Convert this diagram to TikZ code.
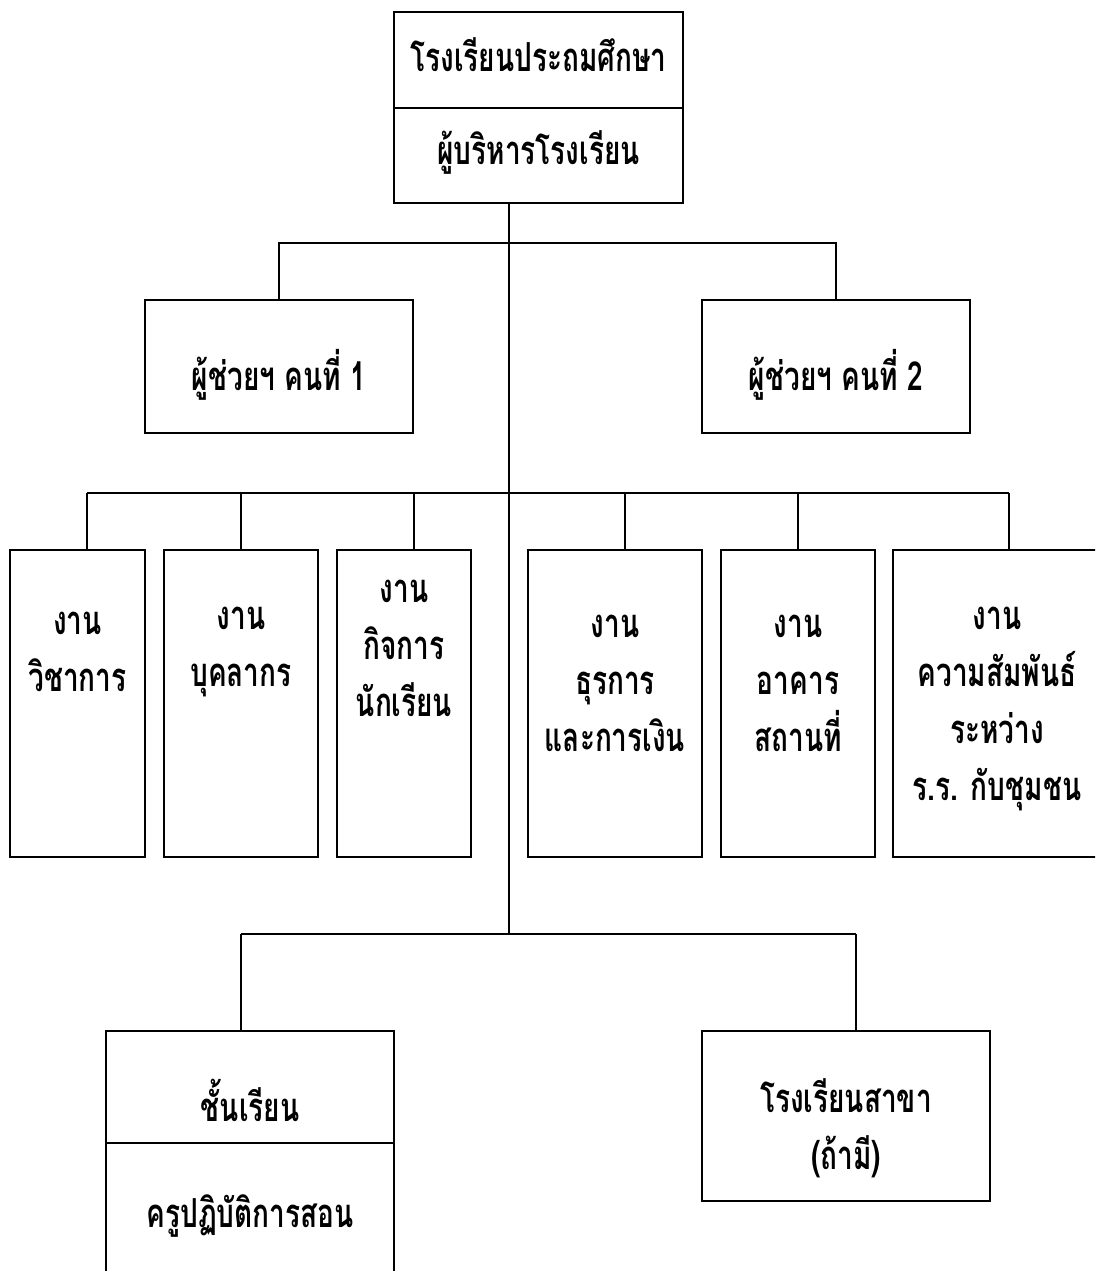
\documentclass[tikz,border=0pt]{standalone}
\usepackage{fontspec}
\newfontfamily\thaifont[Script=Thai,FakeStretch=0.7]{Loma}
\begin{document}
\begin{tikzpicture}[x=1pt,y=-1pt,
  box/.style={draw, line width=1.6pt, rectangle, inner sep=0pt},
  txt/.style={font=\thaifont\bfseries\fontsize{40}{57}\selectfont, align=center, inner sep=0pt},
  conn/.style={line width=1.6pt}]
\clip (0,0) rectangle (1095,1271);
\fill[white] (0,0) rectangle (1095,1271);
% top box
\node[box, minimum width=289, minimum height=96] (school) at (538.5,60) {};
\node[box, minimum width=289, minimum height=95] (dir) at (538.5,155.5) {};
\node[txt] (tschool) at (538.5,55) {โรงเรียนประถมศึกษา};
\node[txt] (tdir) at (538.5,152) {ผู้บริหารโรงเรียน};
% assistants
\node[box, minimum width=268, minimum height=133] (a1) at (279,366.5) {};
\node[box, minimum width=268, minimum height=133] (a2) at (836,366.5) {};
\node[txt] (ta1) at (279,375) {ผู้ช่วยฯ คนที่ 1};
\node[txt] (ta2) at (836,375) {ผู้ช่วยฯ คนที่ 2};
% work boxes
\node[box, minimum width=135, minimum height=307] (b1) at (77.5,703.5) {};
\node[box, minimum width=154, minimum height=307] (b2) at (241,703.5) {};
\node[box, minimum width=134, minimum height=307] (b3) at (404,703.5) {};
\node[box, minimum width=174, minimum height=307] (b4) at (615,703.5) {};
\node[box, minimum width=154, minimum height=307] (b5) at (798,703.5) {};
\node[box, minimum width=208, minimum height=307] (b6) at (997,703.5) {};
\node[txt] (tb1) at (77.5,652) {งาน\\วิชาการ};
\node[txt] (tb2) at (241,652) {งาน\\บุคลากร};
\node[txt] (tb3) at (404,648) {งาน\\กิจการ\\นักเรียน};
\node[txt] (tb4) at (615,683) {งาน\\ธุรการ\\และการเงิน};
\node[txt] (tb5) at (798,683) {งาน\\อาคาร\\สถานที่};
\node[txt] (tb6) at (997,709) {งาน\\ความสัมพันธ์\\ระหว่าง\\ร.ร. กับชุมชน};
% bottom boxes
\node[box, minimum width=288, minimum height=112] (cls) at (250,1087) {};
\node[box, minimum width=288, minimum height=147] (tch) at (250,1216.5) {};
\node[box, minimum width=288, minimum height=170] (br) at (846,1116) {};
\node[txt] (tcls) at (250,1100) {ชั้นเรียน};
\node[txt] (ttch) at (250,1216) {ครูปฏิบัติการสอน};
\node[txt] (tbr) at (846,1128) {โรงเรียนสาขา\\(ถ้ามี)};
% junctions
\coordinate (j1) at (509,243);
\coordinate (j2) at (509,493);
\coordinate (j3) at (509,934);
\coordinate (h1) at (87,493);
\coordinate (h3) at (414,493);
\coordinate (h4) at (625,493);
\coordinate (h6) at (1009,493);
\coordinate (k1) at (241,934);
\coordinate (k2) at (856,934);
% connectors
\draw[conn] (dir.south -| j1) -- (j3);
\draw[conn] (a1.north) |- (j1) -| (a2.north);
\draw[conn] (h1) -- (h6);
\draw[conn] (h1) -- (b1.north -| h1);
\draw[conn] (b2.north) -- (b2.north |- h1);
\draw[conn] (h3) -- (b3.north -| h3);
\draw[conn] (h4) -- (b4.north -| h4);
\draw[conn] (b5.north) -- (b5.north |- h1);
\draw[conn] (h6) -- (b6.north -| h6);
\draw[conn] (k1) -- (k2);
\draw[conn] (k1) -- (cls.north -| k1);
\draw[conn] (k2) -- (br.north -| k2);
\end{tikzpicture}
\end{document}
